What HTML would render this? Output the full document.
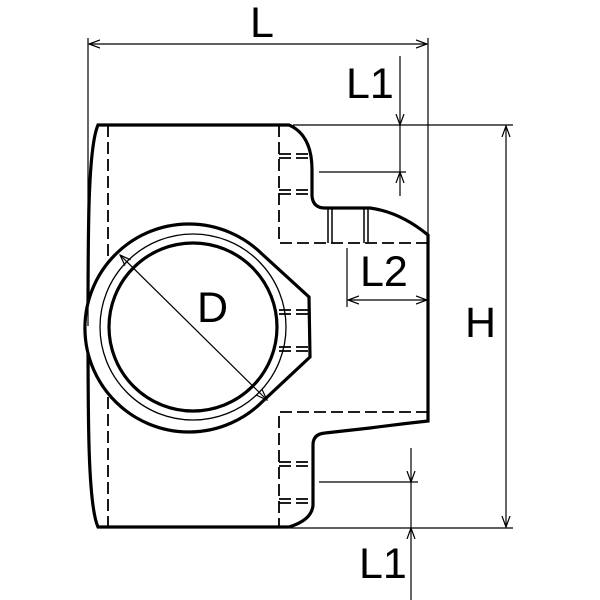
<!DOCTYPE html>
<html><head><style>html,body{margin:0;padding:0;background:#fff}svg{display:block}</style></head>
<body>
<svg width="600" height="600" viewBox="0 0 600 600" xmlns="http://www.w3.org/2000/svg">
<defs>
<marker id="a" markerWidth="12" markerHeight="10" refX="11" refY="5" orient="auto-start-reverse" markerUnits="userSpaceOnUse">
<path d="M0,1 L11,5 L0,9" fill="none" stroke="#000" stroke-width="1.2"/>
</marker>
</defs>
<g fill="none" stroke="#000">
<path stroke-width="3.2" d="M98,125 L289,125 Q312,135 312,170 L312,196 Q313,208 325,208 L370,208 Q400,212 428,235 L428,421 Q400,424 370,428 L325,433 Q313,434 313,445 L313,505 Q312,520 289,527 L98,527 C88,505 88,420 88,326 C88,230 88,148 98,125 Z"/>
<g stroke-width="1.8" stroke-dasharray="12,5">
<line x1="108" y1="125" x2="108" y2="527"/>
<polyline points="279,125 279,243 428,243"/>
<polyline points="428,412 279,412 279,527"/>
<line x1="279" y1="154" x2="312" y2="154"/><line x1="279" y1="158" x2="312" y2="158"/>
<line x1="279" y1="190" x2="312" y2="190"/><line x1="279" y1="194" x2="312" y2="194"/>
<line x1="279" y1="462" x2="313" y2="462"/><line x1="279" y1="466" x2="313" y2="466"/>
<line x1="279" y1="499" x2="313" y2="499"/><line x1="279" y1="503" x2="313" y2="503"/>
</g>
<g stroke-width="1.5">
<line x1="328" y1="208" x2="328" y2="243"/><line x1="332" y1="208" x2="332" y2="243"/>
<line x1="364" y1="208" x2="364" y2="243"/><line x1="368" y1="208" x2="368" y2="243"/>
</g>
<path stroke-width="3.2" fill="#fff" d="M262,254 L309,297 L310,357 L263,401 A104,104 0 1 1 262,254 Z"/>
<circle cx="193" cy="327" r="93" stroke-width="1.3"/>
<circle cx="193" cy="327" r="84" stroke-width="3.2"/>
<g stroke-width="1.8" stroke-dasharray="12,5">
<line x1="279" y1="310" x2="309" y2="310"/><line x1="279" y1="314" x2="309" y2="314"/>
<line x1="279" y1="347" x2="309" y2="347"/><line x1="279" y1="351" x2="309" y2="351"/>
</g>
<line x1="120" y1="255" x2="267" y2="400" stroke-width="1.2" marker-start="url(#a)" marker-end="url(#a)"/>
<g stroke-width="1.2">
<line x1="88" y1="38" x2="88" y2="326"/>
<line x1="428" y1="38" x2="428" y2="235"/>
<line x1="89" y1="44" x2="427" y2="44" marker-start="url(#a)" marker-end="url(#a)"/>
<line x1="293" y1="125" x2="513" y2="125"/>
<line x1="319" y1="172" x2="406" y2="172"/>
<line x1="400" y1="56" x2="400" y2="125" marker-end="url(#a)"/>
<line x1="400" y1="125" x2="400" y2="172"/>
<line x1="400" y1="196" x2="400" y2="172" marker-end="url(#a)"/>
<line x1="506" y1="126" x2="506" y2="527" marker-start="url(#a)" marker-end="url(#a)"/>
<line x1="290" y1="528" x2="513" y2="528"/>
<line x1="319" y1="482" x2="418" y2="482"/>
<line x1="411" y1="448" x2="411" y2="482" marker-end="url(#a)"/>
<line x1="411" y1="482" x2="411" y2="528"/>
<line x1="411" y1="600" x2="411" y2="528" marker-end="url(#a)"/>
<line x1="347" y1="248" x2="347" y2="307"/>
<line x1="348" y1="300" x2="427" y2="300" marker-start="url(#a)" marker-end="url(#a)"/>
</g>
</g>
<g font-family="Liberation Sans, sans-serif" font-size="43" fill="#000">
<text x="250" y="37">L</text>
<text x="346" y="98">L1</text>
<text x="360" y="286">L2</text>
<text x="197" y="322">D</text>
<text x="465" y="337">H</text>
<text x="359" y="578">L1</text>
</g>
</svg>
</body></html>
